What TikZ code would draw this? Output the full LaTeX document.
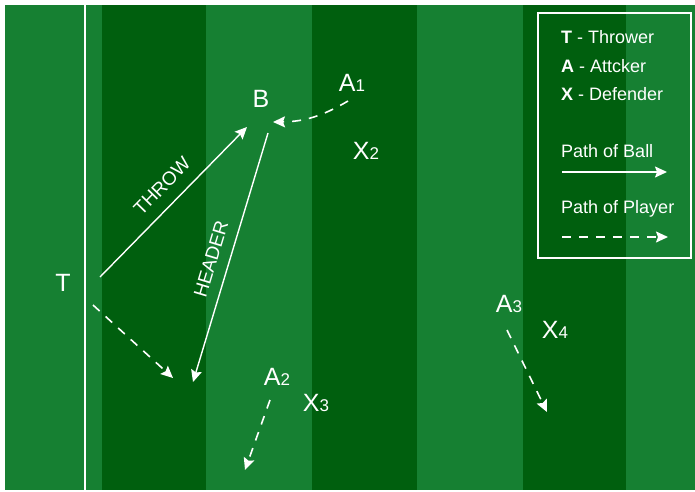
\documentclass[tikz,border=0pt]{standalone}
\usepackage{fontspec}
\setmainfont{Liberation Sans}
\usetikzlibrary{arrows.meta}
\definecolor{pitchlt}{RGB}{22,128,50}
\definecolor{pitchdk}{RGB}{0,95,14}
\newcommand\plyr[2]{#1{\fontsize{17}{20}\selectfont#2}}

\begin{document}
\begin{tikzpicture}[x=1pt,y=-1pt,>={Stealth[length=12pt,width=11pt,inset=2pt]},
lbl/.style={text=white,inner sep=0pt,font=\fontsize{25}{30}\selectfont},
tag/.style={text=white,inner sep=0pt,font=\fontsize{19}{22}\selectfont},
key/.style={text=white,inner sep=0pt,anchor=base west,font=\fontsize{18}{21}\selectfont},
ball/.style={->,white,line width=1.4pt},
run/.style={->,white,line width=1.6pt,dash pattern=on 9pt off 8pt}]
\useasboundingbox(0,0) rectangle (695,491);
% pitch
\fill[pitchlt](5,5) rectangle (695,490);
\foreach \xa/\xb in {102/206,312/417,523/626}\fill[pitchdk](\xa,5) rectangle (\xb,490);
\draw[white,line width=2pt](85,5)--(85,490);
% players
\node[lbl](t) at (63,283){T};
\node[lbl](b) at (261,99){B};
\node[lbl](a1) at (352,83){\plyr A1};
\node[lbl](x2) at (366,151){\plyr X2};
\node[lbl](a2) at (277,377){\plyr A2};
\node[lbl](x3) at (316,403){\plyr X3};
\node[lbl](a3) at (509,304){\plyr A3};
\node[lbl](x4) at (555,330){\plyr X4};
% ends of the paths
\coordinate(ts) at (100,277);\coordinate(bt) at (247,127);
\coordinate(bs) at (268,133);\coordinate(hd) at (193,382);
\coordinate(a1s) at (348,101);\coordinate(a1e) at (273,122);
\coordinate(tr) at (93,305);\coordinate(te) at (173,378);
\coordinate(a2s) at (270,400);\coordinate(a2e) at (245,470);
\coordinate(a3s) at (507,330);\coordinate(a3e) at (547,412);
\draw[ball](ts)--(bt);\draw[ball](bs)--(hd);
\draw[run](a1s) to[bend left=15] (a1e);
\draw[run](tr)--(te);\draw[run](a2s)--(a2e);\draw[run](a3s)--(a3e);
\node[tag,rotate=45.6](thr) at (162,186){THROW};
\node[tag,rotate=73.2](hdr) at (211,259){HEADER};
% key
\draw[white,line width=1.5pt](538,13) rectangle (691,258);
\node[key](kt) at (561,43){\textbf{T} - Thrower};
\node[key](ka) at (561,72){\textbf{A} - Attcker};
\node[key](kx) at (561,100){\textbf{X} - Defender};
\node[key](kb) at (561,157){Path of Ball};
\node[key](kp) at (561,213){Path of Player};
\coordinate(kb1) at (562,172);\coordinate(kb2) at (667,172);
\coordinate(kp1) at (562,237);\coordinate(kp2) at (668,237);
\draw[ball](kb1)--(kb2);\draw[run](kp1)--(kp2);
\end{tikzpicture}
\end{document}
